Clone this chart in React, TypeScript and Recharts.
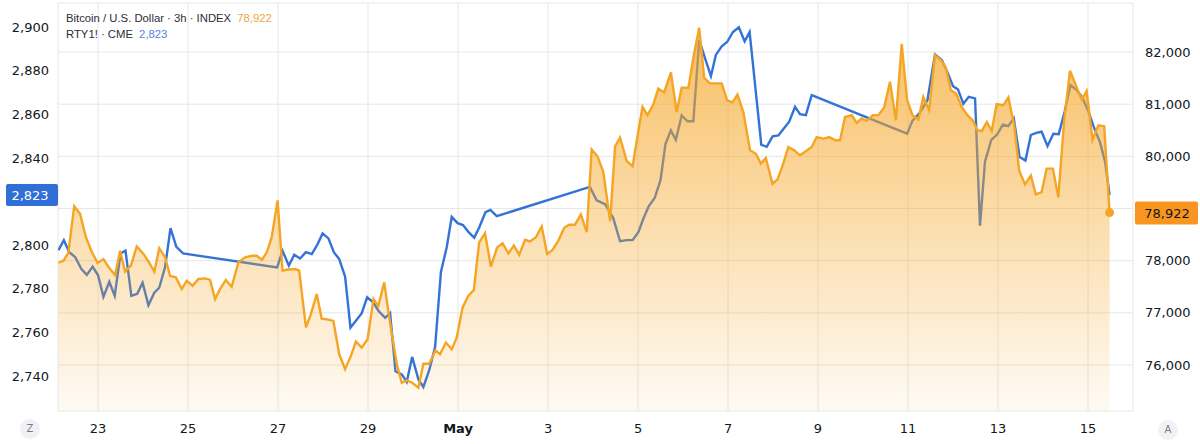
import { ComposedChart, Area, XAxis, YAxis, CartesianGrid, ReferenceDot } from 'recharts';

// time is expressed as day-of-month counted from April (May 1 = 31)
const btcTimes = [
  22.12, 22.23, 22.34, 22.47, 22.6, 22.73, 22.86, 22.99, 23.12, 23.24,
  23.38, 23.49, 23.6, 23.73, 23.86, 24.01, 24.13, 24.25, 24.36, 24.49,
  24.6, 24.73, 24.86, 24.97, 25.1, 25.23, 25.38, 25.49, 25.6, 25.71,
  25.84, 25.97, 26.12, 26.27, 26.42, 26.53, 26.64, 26.75, 26.86, 26.99,
  27.1, 27.22, 27.38, 27.47, 27.62, 27.73, 27.86, 27.97, 28.09, 28.23,
  28.36, 28.49, 28.62, 28.73, 28.86, 28.99, 29.12, 29.23, 29.36, 29.45,
  29.53, 29.64, 29.75, 29.86, 29.98, 30.12, 30.23, 30.36, 30.5, 30.6,
  30.73, 30.86, 30.97, 31.1, 31.23, 31.35, 31.47, 31.6, 31.73, 31.87,
  31.99, 32.12, 32.24, 32.36, 32.49, 32.6, 32.73, 32.86, 32.98, 33.1,
  33.23, 33.36, 33.47, 33.6, 33.73, 33.86, 33.97, 34.1, 34.23, 34.38,
  34.49, 34.6, 34.75, 34.88, 35.01, 35.1, 35.21, 35.34, 35.45, 35.58,
  35.73, 35.86, 35.97, 36.12, 36.24, 36.36, 36.47, 36.6, 36.73, 36.86,
  36.98, 37.1, 37.21, 37.34, 37.49, 37.62, 37.73, 37.84, 37.99, 38.1,
  38.22, 38.34, 38.47, 38.6, 38.73, 38.86, 38.97, 39.12, 39.25, 39.38,
  39.49, 39.6, 39.75, 39.86, 39.97, 40.08, 40.22, 40.34, 40.47, 40.6,
  40.73, 40.86, 40.98, 41.1, 41.23, 41.34, 41.47, 41.6, 41.73, 41.84,
  41.95, 42.07, 42.19, 42.32, 42.44, 42.54, 42.64, 42.75, 42.86, 42.97,
  43.12, 43.23, 43.36, 43.47, 43.6, 43.73, 43.84, 43.97, 44.08, 44.22,
  44.34, 44.47, 44.6, 44.73, 44.86, 44.97, 45.1, 45.23, 45.36, 45.48,
];

const btcValues = [
  77960, 78000, 78150, 79045, 78900, 78450, 78170, 77955, 78030, 77870,
  77725, 78190, 77790, 77905, 78275, 78130, 77970, 77790, 78235, 78065,
  77710, 77680, 77455, 77615, 77520, 77650, 77660, 77630, 77265, 77455,
  77630, 77500, 77970, 78065, 78095, 78095, 78015, 78160, 78450, 79155,
  77810, 77830, 77840, 77810, 76720, 76975, 77360, 76890, 76875, 76845,
  76205, 75920, 76175, 76450, 76335, 76495, 77265, 77135, 77585, 77040,
  76590, 76015, 75660, 75705, 75660, 75565, 76025, 76025, 76285, 76205,
  76430, 76300, 76525, 77100, 77330, 77435, 78350, 78525, 77885, 78255,
  78335, 78140, 78290, 78115, 78400, 78370, 78450, 78655, 78130, 78205,
  78385, 78630, 78690, 78690, 78885, 78545, 80130, 80000, 79700, 78755,
  80190, 80360, 79910, 79810, 80500, 80950, 80790, 80995, 81300, 81225,
  81610, 80850, 81315, 81315, 81940, 82465, 81505, 81400, 81400, 81400,
  81075, 81035, 81185, 80850, 80115, 80050, 79860, 79970, 79475, 79560,
  79840, 80180, 80115, 80020, 80100, 80180, 80370, 80340, 80370, 80310,
  80310, 80755, 80790, 80640, 80725, 80680, 80790, 80790, 80935, 81430,
  80690, 82155, 81075, 80790, 80705, 81140, 80885, 81940, 81845, 81705,
  81270, 81205, 80950, 80790, 80690, 80500, 80485, 80660, 80485, 81000,
  80980, 81130, 80595, 79730, 79460, 79635, 79270, 79315, 79765, 79765,
  79215, 80690, 81640, 81365, 81090, 81255, 80320, 80595, 80575, 78922,
];

const rtyTimes = [
  22.12, 22.24, 22.36, 22.49, 22.63, 22.75, 22.88, 23.0, 23.12, 23.25,
  23.37, 23.5, 23.61, 23.74, 23.87, 23.99, 24.12, 24.25, 24.36, 24.49,
  24.61, 24.74, 24.89, 26.98, 27.1, 27.24, 27.36, 27.49, 27.62, 27.75,
  27.88, 27.99, 28.12, 28.24, 28.36, 28.49, 28.61, 28.74, 28.86, 28.98,
  29.11, 29.24, 29.38, 29.49, 29.61, 29.75, 29.86, 29.98, 30.12, 30.23,
  30.36, 30.49, 30.62, 30.75, 30.86, 30.99, 31.11, 31.23, 31.36, 31.47,
  31.61, 31.72, 31.86, 33.93, 34.08, 34.27, 34.45, 34.6, 34.75, 34.88,
  35.01, 35.12, 35.24, 35.37, 35.5, 35.61, 35.73, 35.84, 35.97, 36.1,
  36.23, 36.36, 36.49, 36.62, 36.73, 36.86, 36.98, 37.11, 37.24, 37.37,
  37.48, 37.74, 37.86, 37.99, 38.12, 38.24, 38.36, 38.49, 38.6, 38.73,
  38.86, 40.98, 41.1, 41.25, 41.43, 41.6, 41.75, 41.88, 42.0, 42.11,
  42.23, 42.35, 42.49, 42.6, 42.71, 42.85, 42.98, 43.11, 43.23, 43.35,
  43.48, 43.61, 43.73, 43.85, 43.97, 44.1, 44.23, 44.35, 44.48, 44.61,
  44.75, 44.87, 45.0, 45.13, 45.27, 45.38, 45.48,
];

const rtyValues = [
  2797.7, 2802.3, 2796.8, 2794.6, 2789.1, 2786.4, 2790.2, 2786.2, 2776.3, 2783.2,
  2776.8, 2796.2, 2797.5, 2776.8, 2777.7, 2782.8, 2772.5, 2778.2, 2780.5, 2790.0,
  2807.8, 2799.2, 2796.2, 2789.8, 2797.4, 2790.6, 2795.6, 2793.9, 2796.8, 2795.9,
  2800.5, 2805.4, 2803.1, 2796.8, 2793.6, 2785.6, 2762.2, 2765.6, 2768.8, 2776.1,
  2773.9, 2769.7, 2766.7, 2768.9, 2742.2, 2740.8, 2737.3, 2748.8, 2738.4, 2735.0,
  2742.7, 2753.3, 2787.7, 2799.2, 2813.0, 2810.1, 2809.2, 2806.1, 2803.4, 2808.1,
  2815.1, 2816.2, 2813.3, 2826.7, 2820.6, 2818.8, 2812.4, 2801.8, 2802.3, 2802.3,
  2806.1, 2812.2, 2817.9, 2821.6, 2829.8, 2846.3, 2852.6, 2848.3, 2859.5, 2856.8,
  2856.8, 2894.0, 2885.6, 2877.5, 2887.2, 2891.1, 2893.1, 2897.7, 2899.9, 2893.4,
  2897.7, 2846.0, 2845.1, 2849.9, 2850.3, 2853.5, 2856.6, 2863.4, 2860.1, 2859.6,
  2868.8, 2851.1, 2857.1, 2860.4, 2866.3, 2887.4, 2884.9, 2879.1, 2872.9, 2871.4,
  2864.8, 2868.0, 2867.3, 2808.9, 2838.2, 2848.3, 2850.7, 2855.3, 2854.6, 2858.1,
  2840.4, 2838.8, 2850.5, 2851.5, 2852.0, 2845.4, 2851.1, 2850.9, 2861.1, 2873.4,
  2871.1, 2867.7, 2861.9, 2854.1, 2847.0, 2838.1, 2823,
];

const dayTicks = [23, 25, 27, 29, 31, 33, 35, 37, 39, 41, 43, 45];
const dayLabels = ['23', '25', '27', '29', 'May', '3', '5', '7', '9', '11', '13', '15'];
const rtyTicks = [2740, 2760, 2780, 2800, 2820, 2840, 2860, 2880, 2900];
const btcTicks = [76000, 77000, 78000, 79000, 80000, 81000, 82000];

const lastBtc = 78922;
const lastRty = 2823;
const lastTime = 45.48;

const xDomain = [22.11, 46.0];
const rtyDomain = [2724, 2911];
const btcDomain = [75118, 82940];

const ORANGE = '#f5a524';
const BLUE = '#3473d6';
const FONT = '"DejaVu Sans", sans-serif';
const TEXT = '#131722';

const fmt = (v: number) => v.toLocaleString('en-US');

const DayTick = (props: any) => {
  const { x, y, payload } = props;
  const i = dayTicks.indexOf(payload.value);
  const label = i >= 0 ? dayLabels[i] : '';
  return (
    <text
      x={x}
      y={y + 14}
      textAnchor="middle"
      fill={TEXT}
      fontSize={13}
      fontFamily={FONT}
      fontWeight={label === 'May' ? 700 : 400}
    >
      {label}
    </text>
  );
};

const LeftBadge = (props: any) => {
  const { cx, cy } = props;
  return (
    <g>
      <rect x={cx - 52} y={cy - 11} width={52} height={22} rx={2} fill="#2f6fd6" />
      <text x={cx - 28} y={cy} textAnchor="middle" dominantBaseline="central" fill="#fff" fontSize={13} fontFamily={FONT}>
        {fmt(lastRty)}
      </text>
    </g>
  );
};

const RightBadge = (props: any) => {
  const { cx, cy } = props;
  return (
    <g>
      <rect x={cx + 2} y={cy - 11} width={63} height={23} rx={2} fill="#f7951e" />
      <text x={cx + 34} y={cy + 0.5} textAnchor="middle" dominantBaseline="central" fill={TEXT} fontSize={13} fontFamily={FONT}>
        {fmt(lastBtc)}
      </text>
    </g>
  );
};

const cornerBtn = (left: number, top: number, letter: string) => (
  <div
    style={{
      position: 'absolute',
      left,
      top,
      width: 20,
      height: 20,
      borderRadius: 10,
      background: '#f0f1f4',
      color: '#787b86',
      fontSize: 10,
      fontFamily: FONT,
      lineHeight: '20px',
      textAlign: 'center',
    }}
  >
    {letter}
  </div>
);

export default function App() {
  const data = [
    ...btcTimes.map((t, i) => ({ t, btc: btcValues[i] })),
    ...rtyTimes.map((t, i) => ({ t, rty: rtyValues[i] })),
  ].sort((a, b) => a.t - b.t);

  return (
    <div style={{ position: 'relative', width: 1200, height: 444, background: '#fff' }}>
      <style>{'body{margin:0}'}</style>
      <ComposedChart width={1200} height={444} data={data} margin={{ top: 3, right: 0, bottom: 0, left: 0 }}>
        <defs>
          <linearGradient id="btcFill" x1="0" y1="0" x2="0" y2="1">
            <stop offset="0%" stopColor={ORANGE} stopOpacity={0.72} />
            <stop offset="100%" stopColor={ORANGE} stopOpacity={0.05} />
          </linearGradient>
        </defs>
        <CartesianGrid yAxisId="btc" stroke="#e6e7ea" />
        <XAxis
          dataKey="t"
          type="number"
          domain={xDomain}
          ticks={dayTicks}
          interval={0}
          allowDataOverflow
          axisLine={false}
          tickLine={false}
          height={33}
          tick={<DayTick />}
        />
        <YAxis
          yAxisId="rty"
          orientation="left"
          width={58}
          domain={rtyDomain}
          ticks={rtyTicks}
          interval={0}
          allowDataOverflow
          axisLine={false}
          tickLine={false}
          tickMargin={3}
          tick={{ fill: TEXT, fontSize: 13, fontFamily: FONT }}
          tickFormatter={(v: number) => (v === 2820 ? '' : fmt(v))}
        />
        <YAxis
          yAxisId="btc"
          orientation="right"
          width={67}
          domain={btcDomain}
          ticks={btcTicks}
          interval={0}
          allowDataOverflow
          axisLine={false}
          tickLine={false}
          tickMargin={6}
          tick={{ fill: TEXT, fontSize: 13, fontFamily: FONT }}
          tickFormatter={(v: number) => (v === 79000 ? '' : fmt(v))}
        />
        <Area
          yAxisId="rty"
          dataKey="rty"
          type="linear"
          stroke={BLUE}
          strokeWidth={2.4}
          fill="none"
          connectNulls
          dot={false}
          activeDot={false}
          isAnimationActive={false}
        />
        <Area
          yAxisId="btc"
          dataKey="btc"
          type="linear"
          stroke={ORANGE}
          strokeWidth={2.4}
          fill="url(#btcFill)"
          fillOpacity={1}
          connectNulls
          dot={false}
          activeDot={false}
          isAnimationActive={false}
        />
        <ReferenceDot yAxisId="btc" x={lastTime} y={lastBtc} r={4.5} fill={ORANGE} stroke="none" />
        <ReferenceDot yAxisId="rty" x={xDomain[0]} y={lastRty} shape={LeftBadge} />
        <ReferenceDot yAxisId="btc" x={xDomain[1]} y={lastBtc} shape={RightBadge} />
      </ComposedChart>

      <div
        style={{
          position: 'absolute',
          left: 66,
          top: 10,
          fontFamily: '"Liberation Sans", Arial, sans-serif',
          fontSize: 11.3,
          lineHeight: '16px',
          color: '#2a2e39',
          whiteSpace: 'nowrap',
        }}
      >
        <div>
          Bitcoin / U.S. Dollar · 3h · INDEX <span style={{ color: '#f2a43c', marginLeft: 3 }}>{fmt(lastBtc)}</span>
        </div>
        <div>
          RTY1! · CME <span style={{ color: '#4f86d8', marginLeft: 3 }}>{fmt(lastRty)}</span>
        </div>
      </div>
      {cornerBtn(20, 419, 'Z')}
      {cornerBtn(1158, 420, 'A')}
    </div>
  );
}
